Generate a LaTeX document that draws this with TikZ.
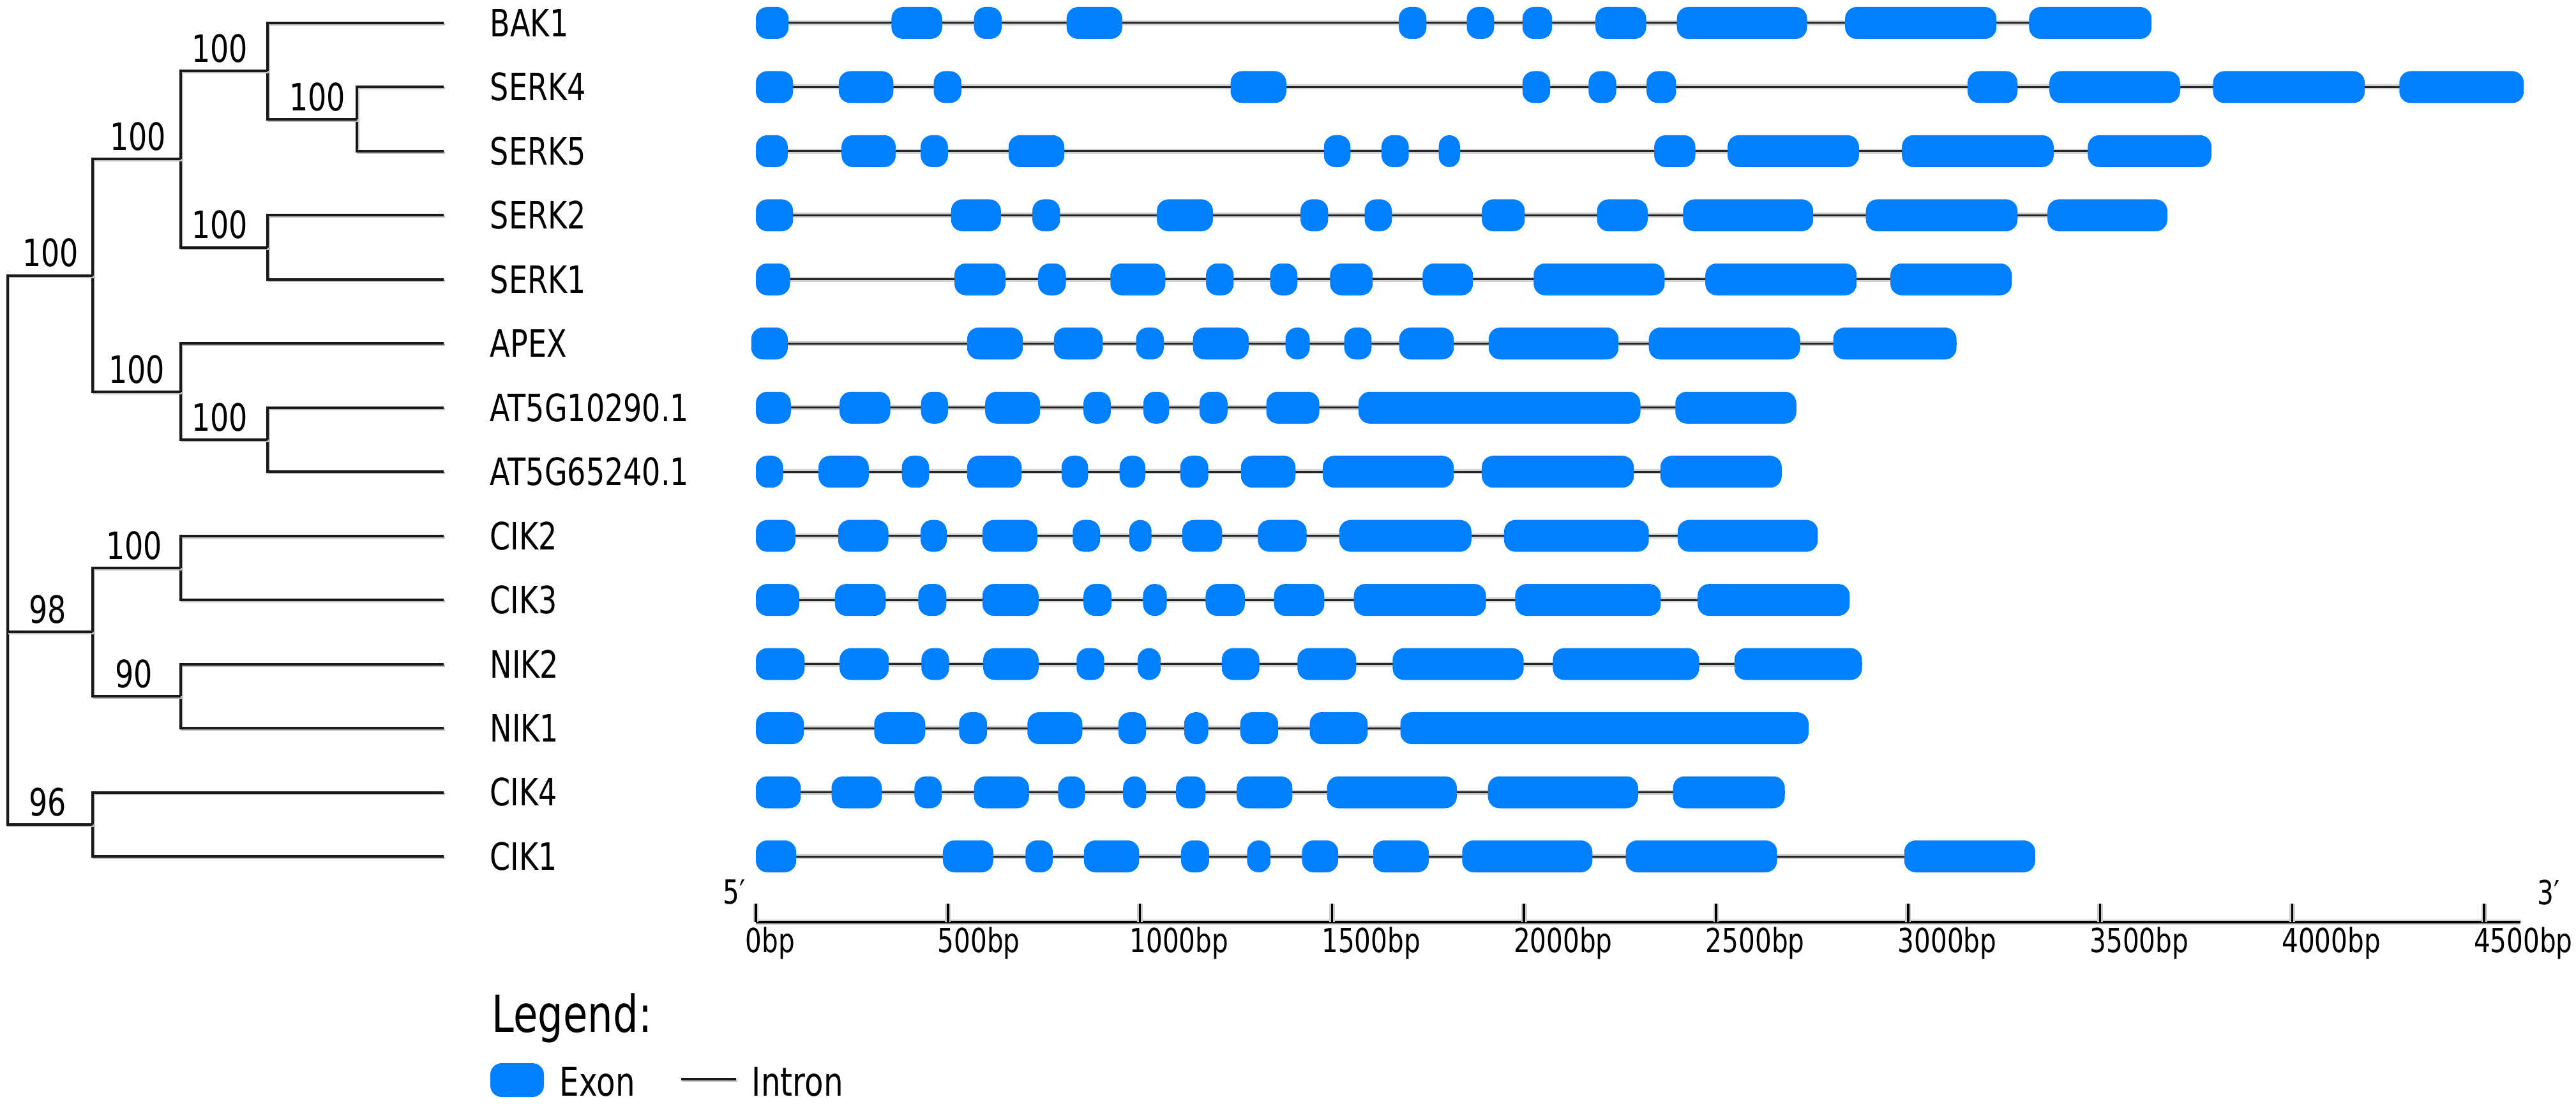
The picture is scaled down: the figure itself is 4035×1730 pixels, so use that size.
\documentclass[tikz,border=0pt]{standalone}
\usepackage{fontspec}
\setmainfont{DejaVu Sans}[FakeStretch=0.78]
\usetikzlibrary{calc}
\definecolor{exonblue}{RGB}{0,128,255}
\pgfmathdeclarefunction{bx}{1}{\pgfmathparse{1184+0.6016*#1}}
\newcommand\exonshape[3]{%
  \pgfmathsetmacro\xa{bx(#2)}%
  \pgfmathsetmacro\xb{bx(#3)}%
  \pgfmathsetmacro\rr{min(18,(\xb-\xa)/2)*0.25}%
  \fill[exonblue, rounded corners=\rr pt] (\xa,#1-25) rectangle (\xb,#1+25);}
\newcommand\generow[4]{%
  \draw[intronline] ({bx(#2)},#1) -- ({bx(#3)},#1);
  \foreach \s/\e in {#4} {\exonshape{#1}{\s}{\e}}}
\tikzset{
  treeline/.style={line width=1pt, black!90, line join=miter,
    preaction={draw=black!25, line width=1pt, transform canvas={shift={(0.4pt,-0.5pt)}}}},
  intronline/.style={line width=0.75pt, black!85, preaction={draw=black!18, line width=2pt}},
  axisline/.style={line width=0.9pt, black, preaction={draw=black!20, line width=2.2pt}},
  genelab/.style={anchor=west, inner sep=0pt, font=\fontsize{14.75pt}{17pt}\selectfont},
  boot/.style={anchor=south, inner sep=0pt, font=\fontsize{14.75pt}{17pt}\selectfont},
  axlab/.style={anchor=base west, inner sep=0pt, font=\fontsize{13pt}{15pt}\selectfont},
  endlab/.style={anchor=base west, inner sep=0pt, font=\fontsize{13pt}{15pt}\selectfont},
  legtitle/.style={anchor=base west, inner sep=0pt, font=\fontsize{20pt}{23pt}\selectfont},
  legitem/.style={anchor=base west, inner sep=0pt, font=\fontsize{15.5pt}{18pt}\selectfont},
  exonkey/.style={fill=exonblue, rounded corners=4.5pt, inner sep=0pt, minimum width=21pt, minimum height=13.25pt}
}
\begin{document}
\begin{tikzpicture}[x=0.25pt, y=-0.25pt]
\useasboundingbox (0,0) rectangle (4035,1730);

% ---------- leaves ----------
\coordinate (l1) at (695,36);
\coordinate (l2) at (695,136.5);
\coordinate (l3) at (695,236.9);
\coordinate (l4) at (695,337.4);
\coordinate (l5) at (695,437.8);
\coordinate (l6) at (695,538.3);
\coordinate (l7) at (695,638.8);
\coordinate (l8) at (695,739.2);
\coordinate (l9) at (695,839.7);
\coordinate (l10) at (695,940.1);
\coordinate (l11) at (695,1040.6);
\coordinate (l12) at (695,1141.1);
\coordinate (l13) at (695,1241.5);
\coordinate (l14) at (695,1342);

% ---------- internal nodes ----------
\coordinate (nSS) at (559,186.7);
\coordinate (nBS) at (419,111.35);
\coordinate (nS21) at (419,387.6);
\coordinate (nA1) at (283,249.5);
\coordinate (nAT) at (419,689);
\coordinate (nA2) at (283,613.65);
\coordinate (nA) at (145,431.6);
\coordinate (nC23) at (283,889.9);
\coordinate (nN) at (283,1090.85);
\coordinate (nB) at (145,990.4);
\coordinate (nC) at (145,1291.75);
\coordinate (root) at (11.5,860);

% ---------- tree ----------
\draw[treeline] (l2) -- (nSS |- l2) -- (nSS |- l3) -- (l3);
\draw[treeline] (l1) -- (nBS |- l1) -- (nBS |- nSS) -- (nSS);
\draw[treeline] (l4) -- (nS21 |- l4) -- (nS21 |- l5) -- (l5);
\draw[treeline] (nBS) -- (nA1 |- nBS) -- (nA1 |- nS21) -- (nS21);
\draw[treeline] (l7) -- (nAT |- l7) -- (nAT |- l8) -- (l8);
\draw[treeline] (l6) -- (nA2 |- l6) -- (nA2 |- nAT) -- (nAT);
\draw[treeline] (nA1) -- (nA |- nA1) -- (nA |- nA2) -- (nA2);
\draw[treeline] (l9) -- (nC23 |- l9) -- (nC23 |- l10) -- (l10);
\draw[treeline] (l11) -- (nN |- l11) -- (nN |- l12) -- (l12);
\draw[treeline] (nC23) -- (nB |- nC23) -- (nB |- nN) -- (nN);
\draw[treeline] (l13) -- (nC |- l13) -- (nC |- l14) -- (l14);
\draw[treeline] (nA) -- (root |- nA) -- (root |- nC) -- (nC);
\draw[treeline] (root |- nB) -- (nB);

% ---------- bootstrap values ----------
\node[boot] (bA) at (79,419.6) {100};
\node[boot] (bA1) at (216,237.5) {100};
\node[boot] (bBS) at (344,99.35) {100};
\node[boot] (bSS) at (497,174.7) {100};
\node[boot] (bS21) at (344,375.6) {100};
\node[boot] (bA2) at (214,601.65) {100};
\node[boot] (bAT) at (344,677) {100};
\node[boot] (bB) at (75,978.4) {98};
\node[boot] (bC23) at (210,877.9) {100};
\node[boot] (bN) at (210,1078.85) {90};
\node[boot] (bC) at (75,1279.75) {96};

% ---------- gene names ----------
\node[genelab] (g1) at (767,36) {BAK1};
\node[genelab] (g2) at (767,136.5) {SERK4};
\node[genelab] (g3) at (767,236.9) {SERK5};
\node[genelab] (g4) at (767,337.4) {SERK2};
\node[genelab] (g5) at (767,437.8) {SERK1};
\node[genelab] (g6) at (767,538.3) {APEX};
\node[genelab] (g7) at (767,638.8) {AT5G10290.1};
\node[genelab] (g8) at (767,739.2) {AT5G65240.1};
\node[genelab] (g9) at (767,839.7) {CIK2};
\node[genelab] (g10) at (767,940.1) {CIK3};
\node[genelab] (g11) at (767,1040.6) {NIK2};
\node[genelab] (g12) at (767,1141.1) {NIK1};
\node[genelab] (g13) at (767,1241.5) {CIK4};
\node[genelab] (g14) at (767,1342) {CIK1};

% ---------- gene structures ----------
\generow{36}{0}{3634}{0/85,353/485,568/640,809/954,1674/1746,1851/1922,1996/2073,2186/2318,2398/2737,2836/3230,3315/3634}
\generow{136.5}{0}{4603}{0/97,216/358,463/535,1236/1381,1996/2068,2168/2240,2319/2396,3155/3285,3368/3708,3794/4189,4279/4603}
\generow{236.9}{0}{3790}{0/83,223/364,429/500,658/803,1479/1548,1629/1700,1778/1833,2339/2446,2530/2872,2984/3379,3468/3790}
\generow{337.4}{0}{3675}{0/97,508/638,720/792,1044/1190,1418/1490,1585/1656,1890/2002,2190/2322,2414/2753,2890/3285,3363/3675}
\generow{437.8}{0}{3270}{0/89,517/650,735/807,923/1066,1172/1244,1339/1410,1495/1606,1736/1867,2025/2366,2472/2866,2954/3270}
\generow{538.3}{-12}{3126}{-12/83,550/695,776/903,990/1062,1138/1283,1379/1442,1532/1603,1675/1817,1908/2246,2325/2719,2805/3126}
\generow{638.8}{0}{2709}{0/91,218/350,430/500,597/740,853/924,1009/1076,1155/1228,1329/1467,1569/2303,2394/2709}
\generow{739.2}{0}{2671}{0/71,163/294,380/451,550/692,796/865,947/1014,1105/1178,1263/1405,1476/1817,1890/2286,2355/2671}
\generow{839.7}{0}{2765}{0/103,214/345,429/497,590/733,825/896,972/1030,1110/1214,1307/1434,1519/1863,1948/2325,2400/2765}
\generow{940.1}{0}{2848}{0/113,206/338,423/496,590/736,853/926,1008/1070,1171/1273,1349/1480,1557/1901,1977/2356,2452/2848}
\generow{1040.6}{0}{2880}{0/127,218/346,431/503,592/736,835/907,994/1054,1213/1311,1410/1563,1658/1999,2075/2456,2548/2880}
\generow{1141.1}{0}{2741}{0/125,308/441,529/602,707/850,944/1016,1115/1178,1261/1360,1442/1593,1678/2741}
\generow{1241.5}{0}{2679}{0/117,197/328,413/484,568/711,787/857,956/1016,1094/1171,1252/1397,1487/1825,1906/2297,2388/2679}
\generow{1342}{0}{3331}{0/105,487/618,702/773,854/998,1107/1180,1279/1340,1422/1516,1607/1752,1839/2178,2265/2659,2990/3331}

% ---------- axis ----------
\coordinate (ax0) at (1184,1445);
\coordinate (ax1) at (3948,1445);
\draw[axisline] (ax0) -- (ax1);
\foreach \k in {0,...,9}{
  \coordinate (tk\k) at ({bx(500*\k)},1445);
  \coordinate (tt\k) at ({bx(500*\k)},1416);
  \draw[axisline] (tk\k) -- (tt\k);
  \pgfmathtruncatemacro\v{500*\k}
  \node[axlab] (al\k) at ({bx(500*\k)-17},1492) {\v bp};
}
\node[endlab] (p5) at (1132,1416) {5′};
\node[endlab] (p3) at (3974,1417) {3′};

% ---------- legend ----------
\node[legtitle] (lgt) at (770,1617) {Legend:};
\node[exonkey] (lgx) at (810,1692.5) {};
\node[legitem] (lgxt) at (876,1717) {Exon};
\coordinate (li1) at (1067,1691);
\coordinate (li2) at (1153,1691);
\draw[treeline] (li1) -- (li2);
\node[legitem] (lgit) at (1177,1717) {Intron};
\end{tikzpicture}
\end{document}
